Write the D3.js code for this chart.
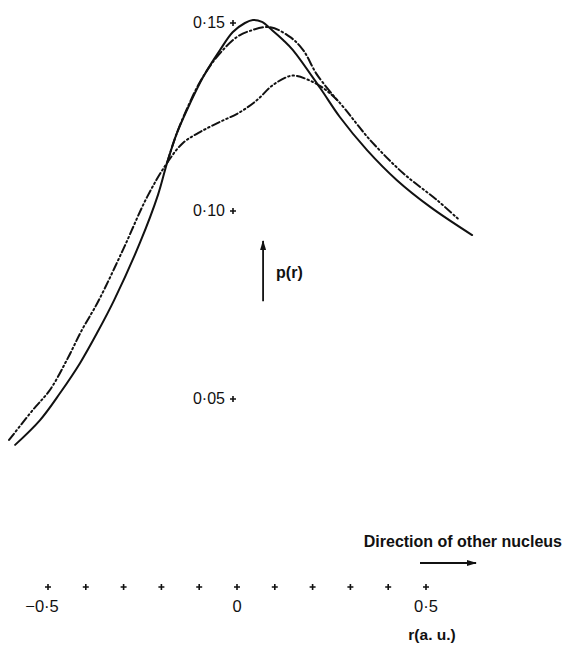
<!DOCTYPE html>
<html>
<head>
    <meta charset="utf-8">
    <title>p(r) along the bond</title>
    <script src="https://d3js.org/d3.v7.min.js"></script>
    <style>
        body, html {
            margin: 0;
            padding: 0;
            background: #fff;
        }
        svg {
            display: block;
        }
        .lbl {
            font-family: "Liberation Sans", Arial, sans-serif;
            fill: #111;
        }
        .curve {
            fill: none;
            stroke: #111;
            stroke-width: 2px;
            stroke-linecap: round;
        }
    </style>
</head>
<body>
    <svg></svg>

    <script>
        // r (a.u.) and p(r)
        const rSolid = [-0.587, -0.521, -0.468, -0.415, -0.370, -0.325, -0.257, -0.209, -0.185, -0.159,
                        -0.124, -0.090, -0.045, -0.011, 0.021, 0.042, 0.066, 0.093, 0.122, 0.148,
                        0.220, 0.272, 0.344, 0.423, 0.511, 0.622];
        const pSolid = [0.0378, 0.0444, 0.0516, 0.0596, 0.0676, 0.0763, 0.0915, 0.1043, 0.1128, 0.1207,
                        0.1287, 0.1356, 0.1428, 0.1476, 0.1500, 0.1508, 0.1503, 0.1481, 0.1455, 0.1428,
                        0.1327, 0.1250, 0.1162, 0.1082, 0.1011, 0.0936];

        // dash-dot-dot curve (lower peak); its tails coincide with the dash-dot curve
        const rDashLow = [-0.603, -0.540, -0.495, -0.450, -0.410, -0.368, -0.302, -0.238, -0.185, -0.143,
                          -0.098, -0.045, 0.008, 0.053, 0.095, 0.140, 0.159, 0.201, 0.228, 0.265,
                          0.352, 0.439, 0.529, 0.585];
        const pDashLow = [0.0391, 0.0471, 0.0524, 0.0604, 0.0684, 0.0758, 0.0896, 0.1037, 0.1128, 0.1181,
                          0.1210, 0.1237, 0.1263, 0.1295, 0.1335, 0.1359, 0.1359, 0.1343, 0.1327, 0.1295,
                          0.1189, 0.1101, 0.1029, 0.0979];

        // dash-dot curve (higher peak), where it leaves the shared tails
        const rDashHigh = [-0.185, -0.161, -0.130, -0.098, -0.053, 0.000, 0.034, 0.087, 0.140, 0.175,
                           0.212, 0.265];
        const pDashHigh = [0.1128, 0.1202, 0.1277, 0.1343, 0.1410, 0.1463, 0.1479, 0.1489, 0.1463, 0.1428,
                           0.1362, 0.1295];

        const xTicks = [-0.5, -0.4, -0.3, -0.2, -0.1, 0, 0.1, 0.2, 0.3, 0.4, 0.5];
        const xTickLabels = ["\u22120\u00b75", "", "", "", "", "0", "", "", "", "", "0\u00b75"];
        const yTicks = [0.05, 0.10, 0.15];
        const yTickLabels = ["0\u00b705", "0\u00b710", "0\u00b715"];

        const width = 563;
        const height = 646;

        const svg = d3.select("svg")
            .attr("width", width)
            .attr("height", height);

        const x = d3.scaleLinear().domain([-0.5, 0.5]).range([48, 426]);
        const y = d3.scaleLinear().domain([0, 0.15]).range([587, 23]);

        // arrowheads
        const defs = svg.append("defs");
        defs.append("marker")
            .attr("id", "head")
            .attr("viewBox", "0 0 10 6")
            .attr("refX", 9)
            .attr("refY", 3)
            .attr("markerWidth", 10)
            .attr("markerHeight", 6)
            .attr("markerUnits", "userSpaceOnUse")
            .attr("orient", "auto")
            .append("path")
            .attr("d", "M0,0L10,3L0,6Z")
            .attr("fill", "#111");

        const line = d3.line()
            .x(d => x(d[0]))
            .y(d => y(d[1]))
            .curve(d3.curveCatmullRom.alpha(0.5));

        const series = [
            {r: rDashLow, p: pDashLow, dash: "8,3,1.5,3,1.5,3"},
            {r: rDashHigh, p: pDashHigh, dash: "9,3,1.5,3"},
            {r: rSolid, p: pSolid, dash: null}
        ];

        svg.append("g")
            .selectAll("path")
            .data(series)
            .enter().append("path")
            .attr("class", "curve")
            .attr("d", s => line(s.r.map((v, i) => [v, s.p[i]])))
            .attr("stroke-dasharray", s => s.dash);

        // little "+" tick marks
        function plus(g, cx, cy) {
            g.append("path")
                .attr("d", `M${cx - 3},${cy}H${cx + 3}M${cx},${cy - 3}V${cy + 3}`)
                .attr("stroke", "#111")
                .attr("stroke-width", 1.6);
        }

        const xAxis = svg.append("g");
        xTicks.forEach(t => plus(xAxis, x(t), y(0)));
        xAxis.selectAll("text")
            .data(xTicks.filter((t, i) => xTickLabels[i] !== ""))
            .enter().append("text")
            .attr("class", "lbl")
            .attr("x", t => x(t) + (t < 0 ? -6 : 0))
            .attr("y", y(0) + 25)
            .attr("text-anchor", "middle")
            .attr("font-size", 16.5)
            .text(t => xTickLabels[xTicks.indexOf(t)]);

        const yAxis = svg.append("g");
        yTicks.forEach(t => plus(yAxis, x(0) - 4, y(t)));
        yAxis.selectAll("text")
            .data(yTicks)
            .enter().append("text")
            .attr("class", "lbl")
            .attr("x", x(0) - 12)
            .attr("y", t => y(t) + 5)
            .attr("text-anchor", "end")
            .attr("font-size", 16)
            .text((t, i) => yTickLabels[i]);

        // p(r) arrow
        svg.append("line")
            .attr("x1", x(0.069)).attr("x2", x(0.069))
            .attr("y1", y(0.0760)).attr("y2", y(0.0920))
            .attr("stroke", "#111")
            .attr("stroke-width", 1.8)
            .attr("marker-end", "url(#head)");
        svg.append("text")
            .attr("class", "lbl")
            .attr("x", x(0.069) + 13)
            .attr("y", y(0.0835) + 5)
            .attr("font-size", 16)
            .attr("font-weight", "bold")
            .text("p(r)");

        // direction annotation
        svg.append("text")
            .attr("class", "lbl")
            .attr("x", 562)
            .attr("y", 547)
            .attr("text-anchor", "end")
            .attr("font-size", 16)
            .attr("font-weight", "bold")
            .text("Direction of other nucleus");
        svg.append("line")
            .attr("x1", 420).attr("x2", 476)
            .attr("y1", 563).attr("y2", 563)
            .attr("stroke", "#111")
            .attr("stroke-width", 1.8)
            .attr("marker-end", "url(#head)");

        svg.append("text")
            .attr("class", "lbl")
            .attr("x", x(0.5) + 6)
            .attr("y", 640)
            .attr("text-anchor", "middle")
            .attr("font-size", 15.5)
            .attr("font-weight", "bold")
            .text("r(a. u.)");
    </script>
</body>
</html>
